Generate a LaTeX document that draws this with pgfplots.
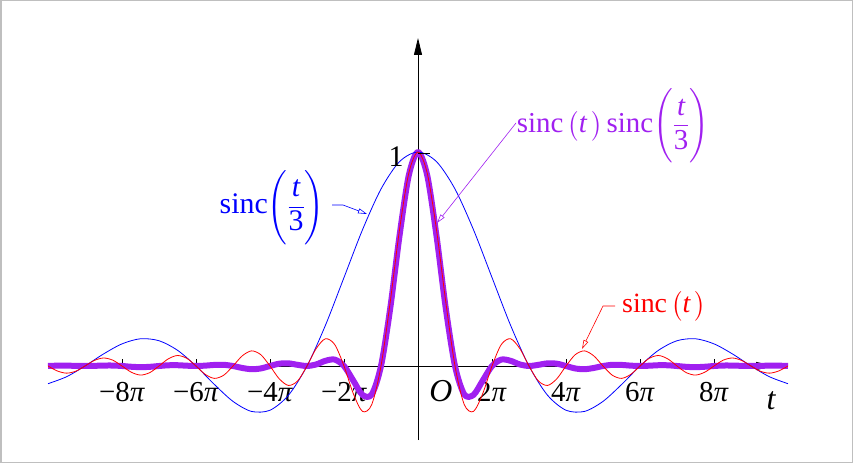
\documentclass[border=0pt]{standalone}
\usepackage{amsmath}
\usepackage{pgfplots}
\pgfplotsset{compat=1.18}
\usetikzlibrary{arrows.meta}
\usepackage{fontspec}
\setmainfont{Liberation Serif}
\definecolor{sincblue}{RGB}{0,0,255}
\definecolor{sincred}{RGB}{255,0,0}
\definecolor{sincpurple}{RGB}{160,32,240}

\begin{document}
\begin{tikzpicture}
\useasboundingbox (0,0) rectangle (853bp,463bp);
\draw[black!25, line width=1.5bp] (0.75bp,0.75bp) rectangle (852.25bp,462.25bp);
\begin{axis}[
    anchor=south west, at={(48bp,23bp)},
    scale only axis, width=725.2bp, height=402bp,
    xmin=-10, xmax=9.6, ymin=-0.3458, ymax=1.5327,
    axis lines=middle, clip=false,
    axis line style={line width=0.8bp, -{Triangle[length=17bp,width=8bp]}},
    xtick={-8,-6,-4,-2,2,4,6,8},
    xticklabels={−8\textit{π},−6\textit{π},−4\textit{π},−2\textit{π},2\textit{π},4\textit{π},6\textit{π},8\textit{π}},
    ytick=\empty,
    tick align=center, major tick length=7bp,
    xtick style={black, line width=0.8bp, yshift=3.5bp},
    xticklabel style={font=\fontsize{29}{32}\selectfont, anchor=base, yshift=-32bp},
]
% sinc(t) sinc(t/3)
\addplot[sincpurple, line width=6bp, smooth, line join=round] coordinates {
(-10,0) (-9.75,0.0016) (-9.5,0.0017) (-9.25,0.0006) (-9,0) (-8.75,0.0007) (-8.5,0.0021) (-8.25,0.0022)
(-8,0) (-7.75,-0.0035) (-7.5,-0.0054) (-7.25,-0.0039) (-7,0) (-6.75,0.0033) (-6.5,0.0036) (-6.25,0.0014)
(-6,0) (-5.75,0.0017) (-5.5,0.0050) (-5.25,0.0055) (-5,0) (-4.75,-0.0092) (-4.5,-0.0150) (-4.25,-0.0115)
(-4,0) (-3.75,0.0108) (-3.5,0.0124) (-3.25,0.0053) (-3,0) (-2.75,0.0074) (-2.5,0.0243) (-2.25,0.0300)
(-2,0) (-1.75,-0.0678) (-1.5,-0.1351) (-1.25,-0.1329) (-1,0) (-0.75,0.2702) (-0.5,0.6079) (-0.25,0.8900)
(0,1)
(0.25,0.8900) (0.5,0.6079) (0.75,0.2702) (1,0) (1.25,-0.1329) (1.5,-0.1351) (1.75,-0.0678) (2,0)
(2.25,0.0300) (2.5,0.0243) (2.75,0.0074) (3,0) (3.25,0.0053) (3.5,0.0124) (3.75,0.0108) (4,0)
(4.25,-0.0115) (4.5,-0.0150) (4.75,-0.0092) (5,0) (5.25,0.0055) (5.5,0.0050) (5.75,0.0017) (6,0)
(6.25,0.0014) (6.5,0.0036) (6.75,0.0033) (7,0) (7.25,-0.0039) (7.5,-0.0054) (7.75,-0.0035) (8,0)
(8.25,0.0022) (8.5,0.0021) (8.75,0.0007) (9,0) (9.25,0.0006) (9.5,0.0017) (9.75,0.0016) (10,0)
};
% sinc(t/3)
\addplot[sincblue, line width=0.8bp, smooth] coordinates {
(-10,-0.0827) (-9.5,-0.0503) (-9,0) (-8.5,0.0562) (-8,0.1034) (-7.5,0.1273) (-7,0.1181) (-6.5,0.0735)
(-6,0) (-5.5,-0.0868) (-5,-0.1654) (-4.5,-0.2122) (-4,-0.2067) (-3.5,-0.1364) (-3,0) (-2.5,0.1910)
(-2,0.4135) (-1.5,0.6366) (-1,0.8270) (-0.5,0.9549) (0,1)
(0.5,0.9549) (1,0.8270) (1.5,0.6366) (2,0.4135) (2.5,0.1910) (3,0) (3.5,-0.1364) (4,-0.2067)
(4.5,-0.2122) (5,-0.1654) (5.5,-0.0868) (6,0) (6.5,0.0735) (7,0.1181) (7.5,0.1273) (8,0.1034)
(8.5,0.0562) (9,0) (9.5,-0.0503) (10,-0.0827)
};
% sinc(t)
\addplot[sincred, line width=0.8bp, smooth] coordinates {
(-10,0) (-9.75,-0.0231) (-9.5,-0.0335) (-9.25,-0.0243) (-9,0) (-8.75,0.0257) (-8.5,0.0374) (-8.25,0.0273)
(-8,0) (-7.75,-0.0290) (-7.5,-0.0424) (-7.25,-0.0310) (-7,0) (-6.75,0.0333) (-6.5,0.0490) (-6.25,0.0360)
(-6,0) (-5.75,-0.0391) (-5.5,-0.0579) (-5.25,-0.0429) (-5,0) (-4.75,0.0474) (-4.5,0.0707) (-4.25,0.0530)
(-4,0) (-3.75,-0.0600) (-3.5,-0.0909) (-3.25,-0.0693) (-3,0) (-2.75,0.0818) (-2.5,0.1273) (-2.25,0.1000)
(-2,0) (-1.75,-0.1286) (-1.5,-0.2122) (-1.25,-0.1801) (-1,0) (-0.75,0.3001) (-0.5,0.6366) (-0.25,0.9003)
(0,1)
(0.25,0.9003) (0.5,0.6366) (0.75,0.3001) (1,0) (1.25,-0.1801) (1.5,-0.2122) (1.75,-0.1286) (2,0)
(2.25,0.1000) (2.5,0.1273) (2.75,0.0818) (3,0) (3.25,-0.0693) (3.5,-0.0909) (3.75,-0.0600) (4,0)
(4.25,0.0530) (4.5,0.0707) (4.75,0.0474) (5,0) (5.25,-0.0429) (5.5,-0.0579) (5.75,-0.0391) (6,0)
(6.25,0.0360) (6.5,0.0490) (6.75,0.0333) (7,0) (7.25,-0.0310) (7.5,-0.0424) (7.75,-0.0290) (8,0)
(8.25,0.0273) (8.5,0.0374) (8.75,0.0257) (9,0) (9.25,-0.0243) (9.5,-0.0335) (9.75,-0.0231) (10,0)
};
\end{axis}
% y tick at 1 and axis texts
\draw[black, line width=0.8bp] (418bp,310bp) -- (430bp,310bp);
\node[font=\fontsize{30}{34}\selectfont] at (396bp,306bp) {1};
\node[font=\fontsize{32}{36}\selectfont\itshape] at (441bp,72bp) {O};
\node[font=\fontsize{32}{36}\selectfont\itshape] at (771bp,62bp) {t};
% labels with leaders
\node[sincblue, font=\fontsize{30}{34}\selectfont, inner sep=0pt] at (272bp,255.5bp)
  {$\mbox{sinc}\Biggl(\dfrac{\mbox{\itshape t}}{\mbox{3}}\Biggr)$};
\draw[sincblue, line width=0.6bp, -{Triangle[open,length=9bp,width=5bp]}]
  (332bp,258bp) -- (343bp,258bp) -- (367bp,249bp);
\node[sincpurple, font=\fontsize{29}{32}\selectfont, inner sep=0pt] at (613bp,337bp)
  {$\mbox{sinc}\,\bigl(\mbox{\itshape t}\,\bigr)\,\mbox{sinc}\Biggl(\dfrac{\mbox{\itshape t}}{\mbox{3}}\Biggr)$};
\draw[sincpurple, line width=0.6bp, -{Triangle[open,length=9bp,width=5bp]}]
  (516bp,340bp) -- (437bp,240bp);
\node[sincred, font=\fontsize{28}{30}\selectfont, inner sep=0pt] at (664bp,157bp)
  {$\mbox{sinc}\,\bigl(\mbox{\itshape t}\,\bigr)$};
\draw[sincred, line width=0.6bp, -{Triangle[open,length=9bp,width=5bp]}]
  (615bp,157bp) -- (603bp,157bp) -- (582bp,114bp);
\end{tikzpicture}
\end{document}
